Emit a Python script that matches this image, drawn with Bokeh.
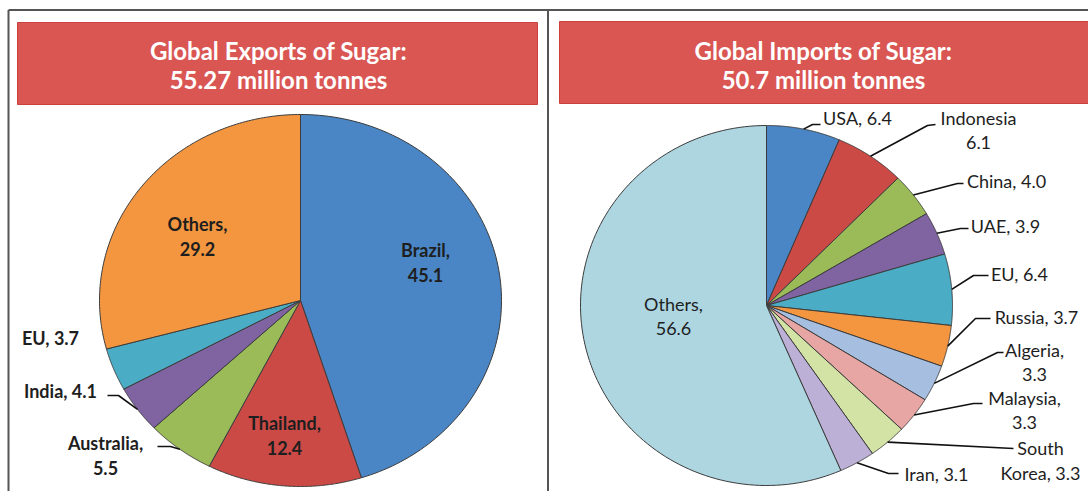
import numpy as np
from bokeh.plotting import figure
from bokeh.models import Range1d
from bokeh.core.properties import value
from bokeh.embed import file_html
from bokeh.resources import INLINE

# ---------------- data ----------------
export_title = ["Global Exports of Sugar:", "55.27 million tonnes"]
export_names = ["Brazil", "Thailand", "Australia", "India", "EU", "Others"]
export_values = [45.1, 12.4, 5.5, 4.1, 3.7, 29.2]
export_colors = ["#4A86C5", "#CB4A46", "#9BBB59", "#8064A2", "#4BACC6", "#F3963F"]

import_title = ["Global Imports of Sugar:", "50.7 million tonnes"]
import_names = ["USA", "Indonesia", "China", "UAE", "EU", "Russia", "Algeria",
                "Malaysia", "South Korea", "Iran", "Others"]
import_values = [6.4, 6.1, 4.0, 3.9, 6.4, 3.7, 3.3, 3.3, 3.3, 3.1, 56.6]
import_colors = ["#4A86C5", "#CB4A46", "#9BBB59", "#8064A2", "#4BACC6", "#F3963F",
                 "#A6BEE0", "#E7A6A4", "#D3E3A5", "#BCB0D6", "#ADD6E1"]

# label line formats ({n}=name, {v}=value)
export_fmt = ["{n},\n{v}", "{n},\n{v}", "{n},\n{v}", "{n}, {v}", "{n}, {v}", "{n},\n{v}"]
import_fmt = ["{n}, {v}", "{n}\n{v}", "{n}, {v}", "{n}, {v}", "{n}, {v}", "{n}, {v}",
              "{n},\n{v}", "{n},\n{v}", "South\nKorea, {v}", "{n}, {v}", "{n},\n{v}"]

# ---------------- layout ----------------
W, H = 1088, 491
p = figure(width=W, height=H, output_backend="svg", toolbar_location=None,
           x_range=Range1d(0, W), y_range=Range1d(H, 0),
           x_axis_type=None, y_axis_type=None, min_border=0,
           outline_line_color=None, background_fill_color="white",
           border_fill_color="white")
p.xgrid.visible = False
p.ygrid.visible = False

FONT = value("Lato")
TXT = "#1E1E1E"

# frame lines
p.segment(x0=[8, 8, 547.5], y0=[9.5, 9.5, 9.5], x1=[W, 8, 547.5], y1=[9.5, H, H],
          line_color="#555555", line_width=2)

# title boxes
p.quad(left=[17, 559], right=[537, 1088], top=[22, 21], bottom=[104, 103],
       fill_color="#DA5653", line_color="#C9403D", line_width=1)


def titles(lines, cx):
    p.text(x=[cx, cx], y=[50, 79], text=lines, text_align="center",
           text_baseline="middle", text_font=FONT, text_font_size="24px",
           text_font_style="bold", text_color="white")


titles(export_title, 278)
titles(import_title, 823)


def pie(vals, colors, cx, cy, rx, ry):
    vals = np.asarray(vals, float)
    frac = np.concatenate([[0], np.cumsum(vals) / vals.sum()])
    xs, ys, mids = [], [], []
    for i in range(len(vals)):
        t = np.linspace(frac[i], frac[i + 1], 120) * 2 * np.pi
        xs.append(np.concatenate([[cx], cx + rx * np.sin(t), [cx]]).tolist())
        ys.append(np.concatenate([[cy], cy - ry * np.cos(t), [cy]]).tolist())
        mids.append((frac[i] + frac[i + 1]) * np.pi)
    p.patches(xs, ys, fill_color=colors, line_color="#3C3C3C", line_width=1)
    return mids


def labels(names, vals, fmts, pos, cx, cy, rx, ry, mids, leaders, bold):
    lx, ly, lt = [], [], []
    for n, v, f, (px, py) in zip(names, vals, fmts, pos):
        lines = f.format(n=n, v=v).split("\n")
        k = len(lines)
        for j, s in enumerate(lines):
            lx.append(px)
            ly.append(py + (j - (k - 1) / 2) * 24.5)
            lt.append(s)
    p.text(x=lx, y=ly, text=lt, text_align="center", text_baseline="middle",
           text_font=FONT, text_font_size="18px",
           text_font_style="bold" if bold else "normal", text_color=TXT)
    mx, my = [], []
    for m, ld in zip(mids, leaders):
        if ld is None:
            continue
        sx = cx + rx * np.sin(m)
        sy = cy - ry * np.cos(m)
        mx.append([sx] + [a for a, b in ld])
        my.append([sy] + [b for a, b in ld])
    p.multi_line(mx, my, line_color="#111111", line_width=1.6)


# left pie
LCX, LCY, LRX, LRY = 300, 300, 201, 186
lm = pie(export_values, export_colors, LCX, LCY, LRX, LRY)
export_pos = [(425, 262), (284, 435), (105, 455), (60, 390), (50, 337), (197, 236)]
export_lead = [None, None, [(170, 446), (157, 446)], [(118, 395), (107, 395)], None, None]
labels(export_names, export_values, export_fmt, export_pos, LCX, LCY, LRX, LRY,
       lm, export_lead, True)

# right pie
RCX, RCY, RRX, RRY = 766, 305, 186, 180
rm = pie(import_values, import_colors, RCX, RCY, RRX, RRY)
import_pos = [(857, 117), (978, 130), (1006, 180), (1005, 225), (1019, 273),
              (1036, 316), (1034, 362), (1024, 410), (1040, 460), (936, 473), (673, 316)]
import_lead = [[(812, 124), (820, 124)],
               [(927, 125), (935, 124)],
               [(957, 183), (963, 183)],
               [(960, 228), (968, 228)],
               [(973, 275), (988, 275)],
               [(975, 318), (990, 318)],
               [(997, 352), (1003, 352)],
               [(973, 403), (982, 403)],
               [(1013, 448)],
               [(888, 473), (898, 473)],
               None]
labels(import_names, import_values, import_fmt, import_pos, RCX, RCY, RRX, RRY,
       rm, import_lead, False)

open("out.html", "w").write(file_html(p, INLINE))
